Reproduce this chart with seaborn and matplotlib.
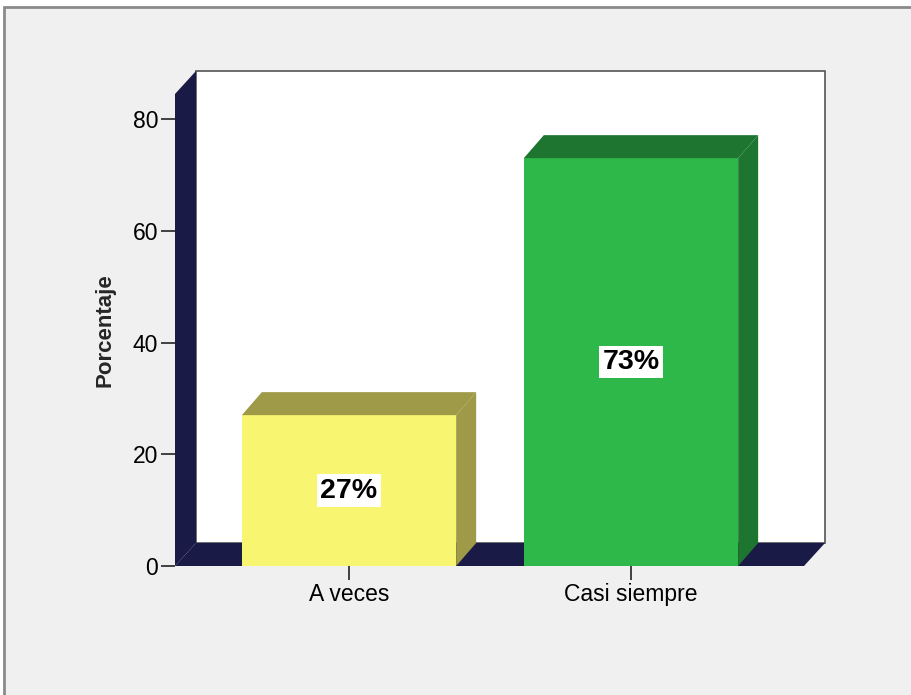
import matplotlib
matplotlib.use("Agg")
import matplotlib.pyplot as plt
import seaborn as sns
from matplotlib.patches import Polygon, Rectangle

categories = ["A veces", "Casi siempre"]
percentages = [27, 73]
labels = ["27%", "73%"]
y_ticks = [0, 20, 40, 60, 80]

face_colors = ["#f8f570", "#2fb84a"]
side_colors = ["#9e9a48", "#1e7530"]
wall_color = "#1a1a46"

sns.set_style("white")
plt.rcParams['font.family'] = ['Liberation Sans', 'DejaVu Sans']

W, H = 911, 695
fig = plt.figure(figsize=(W / 100, H / 100), dpi=100)
fig.patch.set_facecolor("white")

# outer panel frame
fig.patches.append(Rectangle((4 / W, -0.05), 1.1, (H - 7) / H + 0.05,
                             transform=fig.transFigure, facecolor="#f0f0f0",
                             edgecolor="#8a8a8a", linewidth=2, zorder=-10))

left, right, top, bottom = 175, 825, 71, 566
ax = fig.add_axes([left / W, (H - bottom) / H, (right - left) / W, (bottom - top) / H])
ax.set_facecolor("none")

xmin, xmax = -0.617, 1.688
ymin, ymax = 0, 88.6
px_x = (right - left) / (xmax - xmin)
px_y = (bottom - top) / (ymax - ymin)
dxw, dyw = 21 / px_x, 23 / px_y
dxb, dyb = 20 / px_x, 23 / px_y

sns.barplot(x=categories, y=percentages, hue=categories, palette=face_colors,
            width=0.76, saturation=1, legend=False, ax=ax, linewidth=0)

# back wall
ax.add_patch(Rectangle((xmin + dxw, dyw), xmax - xmin - dxw, ymax - dyw,
                       facecolor="white", edgecolor="#555555", linewidth=1.2,
                       zorder=0.5, clip_on=False))
# left wall
ax.add_patch(Polygon([(xmin, 0), (xmin + dxw, dyw), (xmin + dxw, ymax),
                      (xmin, ymax - dyw)], closed=True, facecolor=wall_color,
                     edgecolor="none", zorder=1, clip_on=False))
# floor
ax.add_patch(Polygon([(xmin, 0), (xmax - dxw, 0), (xmax, dyw), (xmin + dxw, dyw)],
                     closed=True, facecolor=wall_color, edgecolor="none",
                     zorder=1, clip_on=False))

for i, bar in enumerate(ax.patches[:len(categories)]):
    bar.set_zorder(3)
for i, (v, c) in enumerate(zip(percentages, side_colors)):
    x0 = i - 0.38
    x1 = i + 0.38
    ax.add_patch(Polygon([(x0, v), (x0 + dxb, v + dyb), (x1 + dxb, v + dyb), (x1, v)],
                         closed=True, facecolor=c, edgecolor="none", zorder=3))
    ax.add_patch(Polygon([(x1, 0), (x1, v), (x1 + dxb, v + dyb), (x1 + dxb, dyb)],
                         closed=True, facecolor=c, edgecolor="none", zorder=3))
    ax.text(i, v / 2, labels[i], ha="center", va="center", fontsize=20.5,
            fontweight="bold", color="black", zorder=5,
            bbox=dict(facecolor="white", edgecolor="none", pad=2.5))

ax.set_xlim(xmin, xmax)
ax.set_ylim(ymin, ymax)
ax.set_yticks(y_ticks)
ax.set_yticklabels([str(t) for t in y_ticks])
for s in ax.spines.values():
    s.set_visible(False)
ax.tick_params(axis="both", which="both", length=10, width=1.3, color="#333333",
               labelsize=16.5, labelcolor="black", pad=2, left=True, bottom=True)
ax.set_xlabel("")
ax.set_ylabel("Porcentaje", fontsize=16, fontweight="bold")
ax.yaxis.set_label_coords(-0.092, 0.477)

fig.savefig("out.png", dpi=100, facecolor=fig.get_facecolor())
